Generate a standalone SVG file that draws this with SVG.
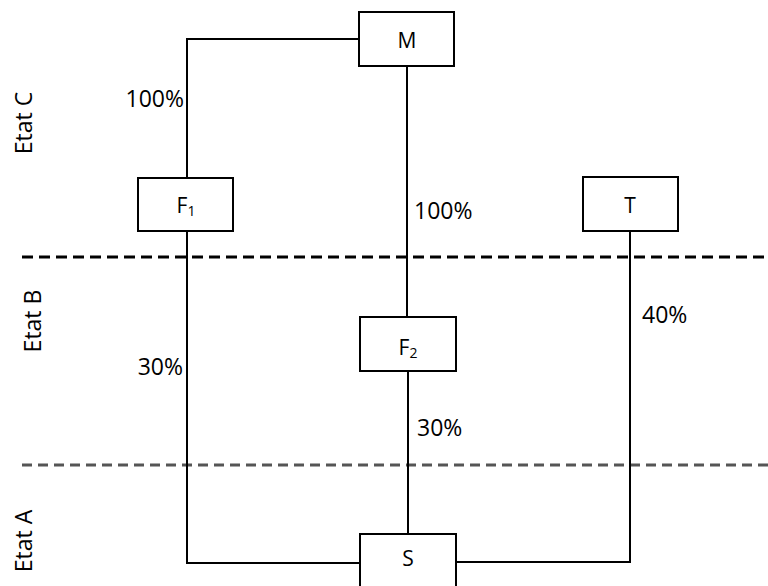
<svg xmlns="http://www.w3.org/2000/svg" width="768" height="586" viewBox="0 0 768 586">
<style>
.box{fill:#fff;stroke:#000;stroke-width:2}
.ln{fill:none;stroke:#000;stroke-width:2}
.t{font-family:"Open Sans","Liberation Sans",sans-serif;font-size:23px;fill:#000}
.bt{font-family:"Open Sans","Liberation Sans",sans-serif;font-size:21px;fill:#000;text-anchor:middle}
.sub{font-size:14px}
</style>
<rect width="768" height="586" fill="#fff"/>
<g id="separators">
<line x1="22" y1="257" x2="768" y2="257" stroke="#000" stroke-width="3" stroke-dasharray="11 6"/>
<line x1="22" y1="465" x2="768" y2="465" stroke="#555" stroke-width="3" stroke-dasharray="10 6"/>
</g>
<g id="states">
<text class="t" transform="translate(32,123) rotate(-90)" text-anchor="middle">Etat C</text>
<text class="t" transform="translate(41,321) rotate(-90)" text-anchor="middle">Etat B</text>
<text class="t" transform="translate(32,541) rotate(-90)" text-anchor="middle">Etat A</text>
</g>
<g id="connectors">
<polyline class="ln" points="359,39 187,39 187,178"/>
<polyline class="ln" points="187,231 187,563 360,563"/>
<line class="ln" x1="407" y1="66" x2="407" y2="317"/>
<line class="ln" x1="408" y1="371" x2="408" y2="534"/>
<polyline class="ln" points="630,231 630,562 456,562"/>
<text class="t" x="184" y="107" text-anchor="end">100%</text>
<text class="t" x="414" y="219">100%</text>
<text class="t" x="642" y="323">40%</text>
<text class="t" x="183" y="375" text-anchor="end">30%</text>
<text class="t" x="417" y="436">30%</text>
</g>
<g id="node-M">
<rect class="box" x="359" y="12" width="95" height="54"/>
<text class="bt" x="407" y="48">M</text>
</g>
<g id="node-F1">
<rect class="box" x="138" y="178" width="95" height="53"/>
<text class="bt" x="186" y="213">F<tspan class="sub" dy="3">1</tspan></text>
</g>
<g id="node-T">
<rect class="box" x="583" y="177" width="95" height="54"/>
<text class="bt" x="630" y="213">T</text>
</g>
<g id="node-F2">
<rect class="box" x="360" y="317" width="96" height="54"/>
<text class="bt" x="408" y="355">F<tspan class="sub" dy="3">2</tspan></text>
</g>
<g id="node-S">
<rect class="box" x="360" y="534" width="96" height="60"/>
<text class="bt" x="408" y="566">S</text>
</g>
</svg>
